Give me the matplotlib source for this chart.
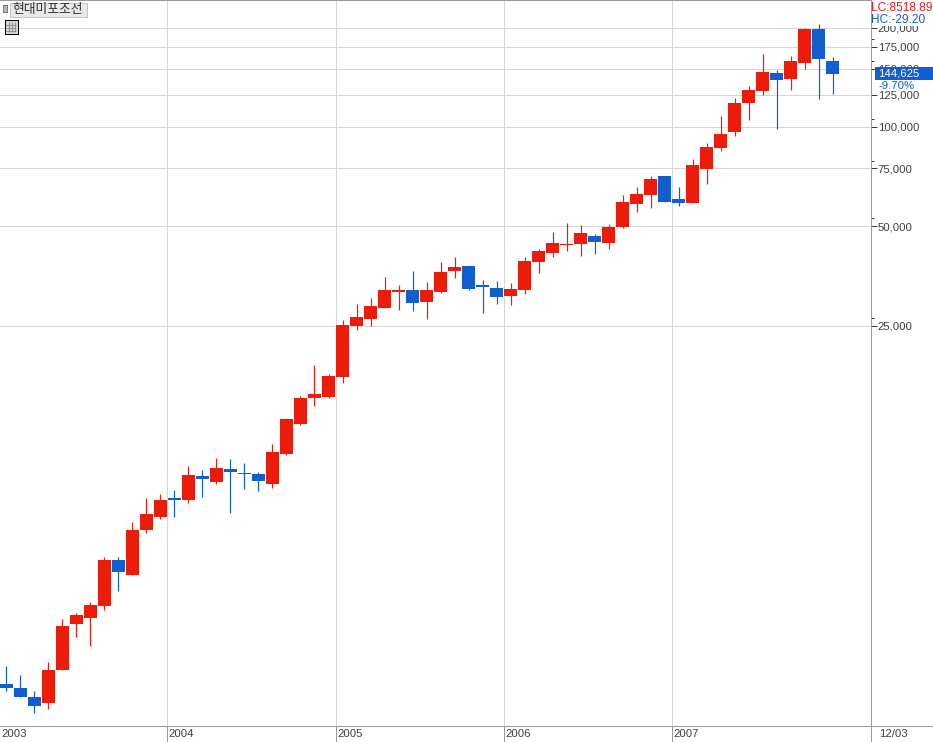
import matplotlib
matplotlib.use("Agg")
import matplotlib.pyplot as plt
from matplotlib.patches import Rectangle
from matplotlib.lines import Line2D
from matplotlib.ticker import FixedLocator, FixedFormatter, NullFormatter

stock_name = "현대미포조선"
lc_text = "LC:8518.89"
hc_text = "HC:-29.20"
change_text = "-9.70%"
last_price_text = "144,625"
last_date_text = "12/03"

opens = [2042,1986,1865,1789,2252,3106,3239,3521,4855,4372,5986,6555,
         7485,7381,8728,8370,9165,8913,8851,8253,10177,12548,15048,15153,
         17424,24878,26124,28210,31545,31988,29417,31545,36528,37825,33125,32438,
         30676,31988,38897,41419,43799,44106,46640,44414,49666,58319,62102,70914,
         60392,58719,74469,86229,96423,118066,128388,145585,139613,156113,197957,158312]
highs = [2316,2175,1945,2381,3216,3353,3621,4957,4957,6330,7485,7697,
         7915,9358,9101,9897,9828,9557,8975,10913,13086,15259,18947,17793,
         25941,29009,30251,35029,33125,36528,33827,38897,40279,37825,34302,34064,
         33591,40279,42593,47962,51072,50364,47296,50717,62102,65672,70914,70914,
         65672,79855,89291,107821,122264,132950,166242,148662,163936,199348,204988,162798]
lows = [1945,1865,1668,1715,2252,2836,2663,3424,3910,4372,5862,6464,
        6555,7228,7537,8253,6741,7970,7860,8026,10106,12461,14229,15048,
        16709,24193,24878,28210,27818,27625,26124,31325,34785,31988,27242,29009,
        28807,31107,36020,40279,42002,40561,41131,42593,49320,55151,56713,59139,
        57509,58719,67061,84442,93766,104847,124851,98465,129283,149712,121414,125726]
closes = [1986,1865,1752,2252,3063,3307,3546,4855,4465,5986,6694,7381,
          7381,8789,8547,9229,8975,8851,8428,10320,12995,15048,15474,17546,
          25052,26492,28606,31988,31988,29212,31988,36274,37562,32213,32666,30463,
          32213,39170,42002,44414,44106,47627,44727,49666,59139,62537,69445,59139,
          58719,76576,86834,95085,118066,129283,146606,138635,158312,197957,160160,144625]

price_ticks = [25000, 50000, 75000, 100000, 125000, 150000, 175000, 200000]
price_labels = ["25,000", "50,000", "75,000", "100,000", "125,000", "150,000", "175,000", "200,000"]
minor_ticks = [26400, 52800, 79000, 105500, 132000, 158500, 185000]
year_labels = ["2003", "2004", "2005", "2006", "2007"]
year_starts = [0, 12, 24, 36, 48]

RED = "#EB1C0A"
BLUE = "#115ECF"
GRID = "#D6D6D6"
AXIS = "#9A9A9A"
TEXT = "#404040"
LABEL_FONT = ["Liberation Sans", "DejaVu Sans"]
KOREAN = ["Noto Sans CJK KR", "DejaVu Sans"]
LABEL_SIZE = 8.2
PX = 0.72
W, H = 933, 742

fig = plt.figure(figsize=(W / 100, H / 100), dpi=100, facecolor="white")
ax = fig.add_axes([0, (H - 725.5) / H, 870.5 / W, 725.5 / H])
ax.set_yscale("log")
ax.set_xlim(-0.45, 61.69)
ax.set_ylim(1533, 242400)

idx = list(range(len(opens)))
colors = [RED if c >= o else BLUE for o, c in zip(opens, closes)]
bottoms = [min(o, c) for o, c in zip(opens, closes)]
tops = [max(o, c) for o, c in zip(opens, closes)]

ax.vlines(idx, lows, highs, colors=colors, linewidth=PX * 1.2, zorder=3)
ax.bar(idx, [t - b for t, b in zip(tops, bottoms)], bottom=bottoms, width=13 / 14,
       color=colors, linewidth=0, antialiased=False, zorder=4)

ax.spines["left"].set_visible(False)
for s in ("top", "right", "bottom"):
    ax.spines[s].set_color(AXIS)
    ax.spines[s].set_linewidth(PX)

ax.yaxis.tick_right()
ax.yaxis.set_major_locator(FixedLocator(price_ticks))
ax.yaxis.set_major_formatter(FixedFormatter(price_labels))
ax.yaxis.set_minor_locator(FixedLocator(minor_ticks))
ax.yaxis.set_minor_formatter(NullFormatter())
ax.tick_params(axis="y", which="major", length=4, width=PX, color=TEXT, pad=1.2,
               labelcolor=TEXT, labelsize=LABEL_SIZE)
ax.tick_params(axis="y", which="minor", length=2, width=PX, color=TEXT)
for lab in ax.get_yticklabels():
    lab.set_family(LABEL_FONT)
ax.grid(True, axis="y", which="major", color=GRID, linewidth=PX, zorder=1)

boundaries = [s - 0.5 for s in year_starts]
ax.set_xticks(boundaries[1:])
ax.set_xticklabels([])
ax.tick_params(axis="x", length=12.2, width=PX, color=AXIS)
ax.grid(True, axis="x", which="major", color=GRID, linewidth=PX, zorder=1)
ax.set_axisbelow(True)

for b, lab in zip(boundaries, year_labels):
    ax.annotate(lab, xy=(max(b, -0.45), 0), xycoords=("data", "axes fraction"),
                xytext=(1.0, -6.0), textcoords="offset points", ha="left", va="center",
                fontsize=LABEL_SIZE, color=TEXT, family=LABEL_FONT, annotation_clip=False)


def fx(x):
    return x / W


def fy(y):
    return 1 - y / H


def rect(x0, y0, x1, y1, fc, ec="none", lw=0, z=5):
    fig.add_artist(Rectangle((fx(x0), fy(y1)), (x1 - x0) / W, (y1 - y0) / H,
                             transform=fig.transFigure, facecolor=fc, edgecolor=ec,
                             linewidth=lw, zorder=z, antialiased=False))


def line(x0, y0, x1, y1, c=AXIS, lw=PX, z=5):
    fig.add_artist(Line2D([fx(x0), fx(x1)], [fy(y0), fy(y1)], color=c, linewidth=lw,
                          zorder=z, solid_capstyle="butt", transform=fig.transFigure))


# axis extensions past the plot frame
line(870.5, 725.5, 870.5, 742)
line(870.5, 725.5, 933, 725.5)

# panels that mask the axis labels
rect(871.5, 1, W, 26, "white")
rect(871.5, 80, W, 91, "white")
rect(875, 67, W, 80, BLUE)

fig.text(fx(871), fy(8), lc_text, color="#EE1C1C", family=LABEL_FONT, fontsize=8.6, va="center", zorder=6)
fig.text(fx(871), fy(20), hc_text, color=BLUE, family=LABEL_FONT, fontsize=8.6, va="center", zorder=6)
fig.text(fx(878.5), fy(73.5), last_price_text, color="white", family=LABEL_FONT, fontsize=LABEL_SIZE, va="center", zorder=6)
fig.text(fx(878.5), fy(86), change_text, color=BLUE, family=LABEL_FONT, fontsize=LABEL_SIZE, va="center", zorder=6)
fig.text(fx(879), fy(734), last_date_text, color=TEXT, family=LABEL_FONT, fontsize=LABEL_SIZE, va="center", zorder=6)

# stock name tag and small controls
rect(2.5, 5.5, 6.5, 11.5, "#B8B8B8", ec="#808080", lw=0.7)
rect(9.5, 2.5, 86.5, 16.5, "#E8E8E8", ec="#C4C4C4", lw=0.7)
fig.text(fx(48), fy(9), stock_name, color="#303030", family=KOREAN, fontsize=9.2, ha="center",
         va="center", zorder=6)
rect(4.5, 20.5, 17.5, 33.5, "#D8D8D8", ec="#000000", lw=PX)
for gx in (8, 11, 14):
    line(gx + 0.5, 22, gx + 0.5, 32, c="#909090", z=6)
for gy in (24, 27, 30):
    line(6, gy + 0.5, 16, gy + 0.5, c="#909090", z=6)

fig.savefig("out.png", dpi=100, facecolor="white")
